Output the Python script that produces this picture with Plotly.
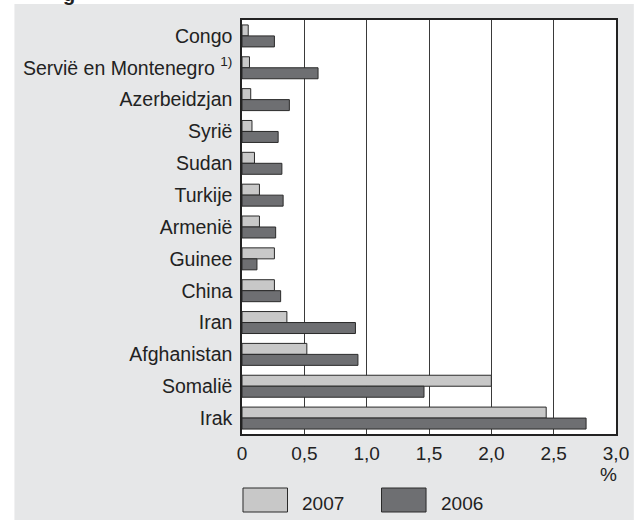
import plotly.graph_objects as go

countries = ["Congo", "Servië en Montenegro <sup>1)</sup>", "Azerbeidzjan", "Syrië", "Sudan",
             "Turkije", "Armenië", "Guinee", "China", "Iran", "Afghanistan", "Somalië", "Irak"]
series_names = ["2007", "2006"]
values_2007 = [0.05, 0.06, 0.07, 0.08, 0.10, 0.14, 0.14, 0.26, 0.26, 0.36, 0.52, 2.00, 2.44]
values_2006 = [0.26, 0.61, 0.38, 0.29, 0.32, 0.33, 0.27, 0.12, 0.31, 0.91, 0.93, 1.46, 2.76]
x_tickvals = [0, 0.5, 1.0, 1.5, 2.0, 2.5, 3.0]
x_ticktext = ["0", "0,5", "1,0", "1,5", "2,0", "2,5", "3,0"]
colors = ["#c8c8c8", "#6e6f72"]

FONT = "Liberation Sans, Arial, sans-serif"
W, H = 641, 520
L, R, T, B = 242, 620, 20, 434
pw, ph = R - L, B - T

def px_x(x):
    return (x - L) / pw

def px_y(y):
    return (B - y) / ph

fig = go.Figure()
for name, vals, col in zip(series_names, [values_2007, values_2006], colors):
    fig.add_trace(go.Bar(
        y=countries, x=vals, name=name, orientation="h",
        marker=dict(color=col, line=dict(color="#2a2a2a", width=1)),
        showlegend=False,
    ))

shapes = [
    dict(type="rect", xref="paper", yref="paper", x0=px_x(12), x1=px_x(638),
         y0=px_y(520), y1=px_y(4), fillcolor="#e6e7e8", line=dict(width=0), layer="below"),
    dict(type="rect", xref="paper", yref="paper", x0=0, x1=1, y0=0, y1=1,
         fillcolor="white", line=dict(width=0), layer="below"),
]
annotations = [
    dict(text="%", xref="paper", yref="paper", x=px_x(612), y=px_y(474), showarrow=False,
         font=dict(family=FONT, size=19, color="#222"), xanchor="center", yanchor="middle"),
    dict(text="<b>g</b>", xref="paper", yref="paper", x=px_x(67), y=px_y(-6), showarrow=False,
         font=dict(family=FONT, size=20, color="#222"), xanchor="center", yanchor="middle"),
]
legend_boxes = [(243, 288), (383, 428)]
legend_text_x = [301, 441]
for name, col, (x0, x1), tx in zip(series_names, colors, legend_boxes, legend_text_x):
    shapes.append(dict(type="rect", xref="paper", yref="paper", x0=px_x(x0), x1=px_x(x1),
                       y0=px_y(512), y1=px_y(488), fillcolor=col,
                       line=dict(color="#2a2a2a", width=1), layer="above"))
    annotations.append(dict(text=name, xref="paper", yref="paper", x=px_x(tx), y=px_y(503),
                            showarrow=False, xanchor="left", yanchor="middle",
                            font=dict(family=FONT, size=19, color="#222")))

fig.update_layout(
    width=W, height=H,
    margin=dict(l=L, r=W - R, t=T, b=H - B, pad=0),
    paper_bgcolor="white", plot_bgcolor="white",
    barmode="group", bargap=0.31, bargroupgap=0.0,
    font=dict(family=FONT, size=19, color="#222"),
    shapes=shapes, annotations=annotations,
    xaxis=dict(range=[0, 3.0], tickvals=x_tickvals, ticktext=x_ticktext,
               showgrid=True, gridcolor="#3a3a3a", gridwidth=1,
               showline=True, linecolor="#222", linewidth=1.5, mirror=True,
               zeroline=False, ticks="outside", ticklen=0, ticklabelstandoff=1,
               tickfont=dict(family=FONT, size=19, color="#222")),
    yaxis=dict(type="category", categoryorder="array", categoryarray=countries,
               autorange="reversed", showgrid=False,
               showline=True, linecolor="#222", linewidth=1.5, mirror=True,
               ticks="outside", ticklen=0, ticklabelstandoff=4,
               tickfont=dict(family=FONT, size=19.5, color="#222")),
)

fig.write_html("out.html", config={"displayModeBar": False},
               post_script="document.body.style.margin='0';")
